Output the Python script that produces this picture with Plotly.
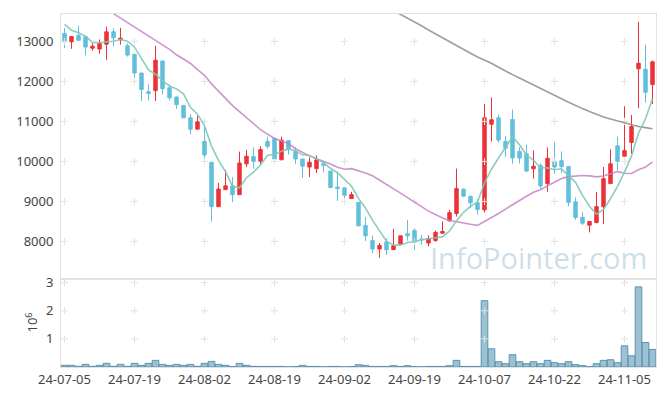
import pandas as pd
import plotly.graph_objects as go

# ---------------- data ----------------
holidays = ["2024-08-15", "2024-09-16", "2024-09-17", "2024-09-18",
            "2024-10-01", "2024-10-03", "2024-10-09"]
dates = pd.bdate_range("2024-07-05", "2024-11-11", freq="C",
                       holidays=holidays).strftime("%y-%m-%d").tolist()

opens = [13200, 12990, 13150, 13120, 12830, 12810, 12930, 13240, 13040, 12890,
         12680, 12210, 11740, 11770, 12510, 11840, 11610, 11400, 11090, 10805,
         10500, 9980, 8870, 9295, 9390, 9170, 9940, 10120, 10005, 10500,
         10580, 10040, 10520, 10250, 10060, 9860, 9820, 9940, 9760, 9360,
         9340, 9072, 8975, 8400, 8020, 7810, 7990, 7795, 7935, 8190,
         8275, 8060, 7960, 8025, 8205, 8515, 8700, 9305, 9130, 8965,
         8790, 10930, 11090, 10500, 11050, 10250, 10190, 9815, 9900, 9445,
         10005, 10020, 9870, 8990, 8600, 8405, 8470, 8870, 9445, 10390,
         10130, 10475, 12315, 12305, 11920]
highs = [13340, 13130, 13390, 13120, 12960, 13050, 13370, 13330, 13340, 12950,
         12680, 12210, 11930, 12890, 12510, 11920, 11620, 11400, 11180, 11140,
         10990, 9980, 9460, 9790, 9610, 10245, 10290, 10350, 10380, 10620,
         10590, 10620, 10520, 10350, 10060, 10100, 10150, 10000, 9760, 9750,
         9340, 9240, 8975, 8610, 8150, 7960, 8080, 8315, 8140, 8540,
         8330, 8160, 8150, 8270, 8500, 8790, 9820, 9330, 9130, 9060,
         11440, 11600, 11170, 10640, 11300, 10350, 10420, 10270, 9950, 10350,
         10490, 10250, 9880, 9100, 8740, 8500, 9240, 9860, 10300, 10620,
         11380, 11160, 13490, 12920, 12520]
lows = [12840, 12815, 13010, 12650, 12770, 12690, 12540, 12880, 12920, 12620,
        12100, 11510, 11520, 11510, 11670, 11530, 11320, 11090, 10680, 10805,
        10060, 8500, 8870, 9295, 8980, 9170, 9860, 9820, 9940, 10320,
        9990, 10040, 10170, 9940, 9580, 9610, 9710, 9730, 9345, 9015,
        9000, 9072, 8390, 8010, 7710, 7590, 7660, 7795, 7935, 8020,
        7790, 7920, 7880, 7990, 8200, 8490, 8620, 9110, 8830, 8670,
        8720, 10500, 10470, 10120, 9940, 9950, 9730, 9570, 9320, 9240,
        9690, 9710, 8880, 8540, 8410, 8225, 8470, 8440, 9445, 9770,
        10129, 10190, 11330, 11470, 11440]
closes = [12990, 13120, 13030, 12860, 12880, 12950, 13240, 13090, 13080, 12660,
          12210, 11800, 11700, 12530, 11820, 11590, 11420, 11090, 10805, 10990,
          10160, 8870, 9310, 9390, 9170, 9960, 10130, 10000, 10295, 10380,
          10060, 10530, 10295, 10060, 9880, 9980, 10040, 9900, 9345, 9320,
          9155, 9170, 8390, 8140, 7810, 7900, 7790, 7895, 8140, 8140,
          7985, 8040, 8070, 8225, 8250, 8720, 9320, 9130, 8965, 8800,
          11090, 11040, 10535, 10330, 10090, 10085, 9760, 9880, 9385, 10080,
          9860, 9870, 8975, 8600, 8455, 8500, 8870, 9570, 9940, 10005,
          10270, 10870, 12455, 11730, 12490]
volumes = [59000, 59000, 24000, 94000, 24000, 59000, 130000, 24000, 94000, 24000,
           130000, 59000, 130000, 236000, 94000, 59000, 94000, 59000, 94000, 24000,
           130000, 200000, 94000, 59000, 12000, 130000, 59000, 24000, 20000, 20000,
           20000, 20000, 5000, 15000, 59000, 20000, 20000, 5000, 20000, 20000,
           5000, 15000, 82000, 59000, 20000, 20000, 20000, 47000, 20000, 47000,
           12000, 5000, 20000, 20000, 20000, 47000, 236000, 20000, 20000, 20000,
           2360000, 648000, 188000, 118000, 436000, 188000, 118000, 188000, 118000, 236000,
           153000, 118000, 188000, 82000, 47000, 12000, 118000, 236000, 259000, 153000,
           754000, 400000, 2850000, 872000, 624000]

# moving-average values before the rolling window is full
ma5_head = [13428, 13280, 13215, 13132]
ma20_head = [None] * 7 + [13693, 13582, 13470, 13359, 13248, 13124, 13012,
                          12913, 12802, 12666, 12554, 12448]
ma_long_start = 47
ma_long = [13770, 13680, 13580, 13490, 13390, 13285, 13185, 13085, 12990, 12895,
           12800, 12705, 12610, 12540, 12455, 12355, 12255, 12170, 12085, 11995,
           11910, 11825, 11740, 11650, 11565, 11480, 11390, 11320, 11245, 11170,
           11110, 11060, 11010, 10960, 10915, 10875, 10845, 10815]

price_ticks = [8000, 9000, 10000, 11000, 12000, 13000]
vol_ticks = [1, 2, 3]
tick_dates = dates[::10]

# ---------------- derived series ----------------
cs = pd.Series(closes, dtype=float)
ma5 = ma5_head + cs.rolling(5).mean().tolist()[4:]
ma20 = ma20_head + cs.rolling(20).mean().tolist()[19:]
ma_long_full = [None] * ma_long_start + ma_long
vol_m = [v / 1e6 for v in volumes]

RED = "#ec3237"
BLUE = "#62bfdb"
FONT = "Noto Sans"
GRID = "#e2e2e2"
LINE = "#e2e2e2"

fig = go.Figure()

fig.add_trace(go.Candlestick(
    x=dates, open=opens, high=highs, low=lows, close=closes,
    increasing=dict(line=dict(color=RED, width=1), fillcolor=RED),
    decreasing=dict(line=dict(color=BLUE, width=1), fillcolor=BLUE),
    whiskerwidth=0, xaxis="x", yaxis="y", showlegend=False))

fig.add_trace(go.Bar(x=dates, y=vol_m, xaxis="x2", yaxis="y2",
                     marker=dict(color="rgba(130,178,200,0.8)",
                                 line=dict(color="rgba(80,140,170,0.9)", width=1)),
                     showlegend=False))

# grid crosses
gx = [d for d in tick_dates for _ in price_ticks]
gy = [p for _ in tick_dates for p in price_ticks]
fig.add_trace(go.Scatter(x=gx, y=gy, mode="markers", hoverinfo="skip",
                         marker=dict(symbol="cross-thin", size=5,
                                     line=dict(color=GRID, width=1)),
                         xaxis="x", yaxis="y", showlegend=False))
gx2 = [d for d in tick_dates for _ in vol_ticks]
gy2 = [v for _ in tick_dates for v in vol_ticks]
fig.add_trace(go.Scatter(x=gx2, y=gy2, mode="markers", hoverinfo="skip",
                         marker=dict(symbol="cross-thin", size=5,
                                     line=dict(color=GRID, width=1)),
                         xaxis="x2", yaxis="y2", showlegend=False))

fig.add_trace(go.Scatter(x=dates, y=ma_long_full, mode="lines",
                         line=dict(color="rgba(140,140,140,0.85)", width=1.6),
                         xaxis="x", yaxis="y", showlegend=False))
fig.add_trace(go.Scatter(x=dates, y=ma20, mode="lines",
                         line=dict(color="rgba(196,130,196,0.85)", width=1.6),
                         xaxis="x", yaxis="y", showlegend=False))
fig.add_trace(go.Scatter(x=dates, y=ma5, mode="lines",
                         line=dict(color="rgba(128,200,184,0.9)", width=1.6),
                         xaxis="x", yaxis="y", showlegend=False))

split = 89 / 357
axis_common = dict(showline=True, mirror=True, linecolor=LINE, linewidth=1,
                   showgrid=False, zeroline=False, ticks="",
                   tickfont=dict(family=FONT, size=13, color="#444"))

fig.update_layout(
    width=665, height=396,
    margin=dict(l=61, r=8, t=10, b=29),
    paper_bgcolor="white", plot_bgcolor="white",
    bargap=0.05, showlegend=False,
    xaxis=dict(type="category", categoryorder="array", categoryarray=dates,
               domain=[0, 1], anchor="y",
               range=[-0.5, len(dates) - 0.5], showticklabels=False,
               rangeslider=dict(visible=False), **axis_common),
    xaxis2=dict(type="category", categoryorder="array", categoryarray=dates,
                domain=[0, 1], anchor="y2", matches="x",
                range=[-0.5, len(dates) - 0.5], tickangle=0,
                tickvals=tick_dates, ticktext=tick_dates, **axis_common),
    yaxis=dict(domain=[split, 1], anchor="x", range=[7061, 13685],
               tickvals=price_ticks, tickformat="d", ticklabelstandoff=4,
               **axis_common),
    yaxis2=dict(domain=[0, split], anchor="x2", range=[0, 3.13],
                tickvals=vol_ticks, tickformat="d", ticklabelstandoff=4,
                **axis_common),
    annotations=[
        dict(text="InfoPointer.com", xref="paper", yref="paper",
             x=(539 - 61) / 596, y=(367 - 256) / 357, xanchor="center",
             yanchor="middle", showarrow=False,
             font=dict(family="Open Sans", size=29, color="rgba(170,200,218,0.6)")),
        dict(text="10<sup>6</sup>", xref="paper", yref="paper",
             x=(31 - 61) / 596, y=(367 - 322) / 357, xanchor="center",
             yanchor="middle", showarrow=False, textangle=-90,
             font=dict(family=FONT, size=13, color="#444")),
    ],
)

fig.write_html("out.html",
               config={"displayModeBar": False},
               post_script="document.body.style.margin='0';"
                           "document.body.style.overflow='hidden';")
